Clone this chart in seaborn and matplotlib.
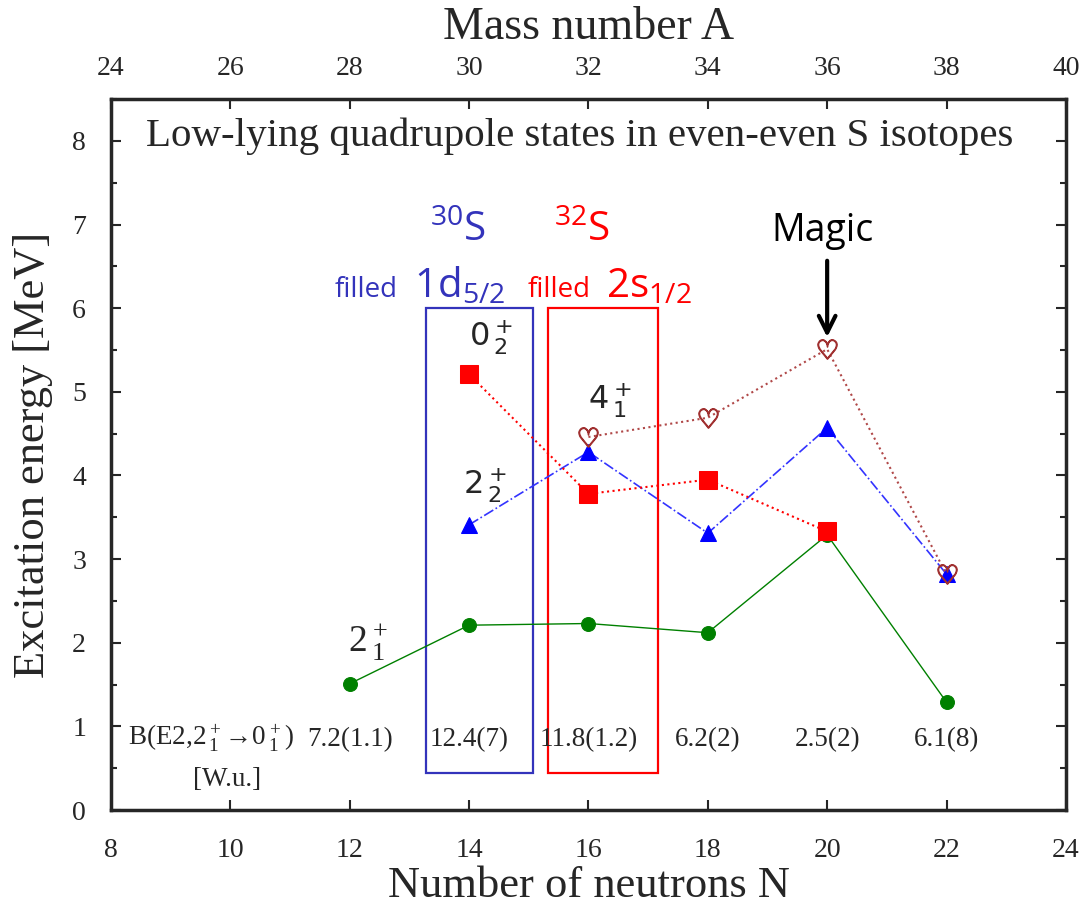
import matplotlib
matplotlib.use('Agg')
import matplotlib.pyplot as plt
import seaborn as sns
from matplotlib.patches import Rectangle
from matplotlib.ticker import MultipleLocator

# excitation energies [MeV] vs neutron number N
n_2p1 = [12, 14, 16, 18, 20, 22]
e_2p1 = [1.51, 2.21, 2.23, 2.12, 3.29, 1.29]
n_2p2 = [14, 16, 18, 20, 22]
e_2p2 = [3.41, 4.28, 3.31, 4.57, 2.82]
n_0p2 = [14, 16, 18, 20]
e_0p2 = [5.21, 3.78, 3.95, 3.33]
n_4p1 = [16, 18, 20, 22]
e_4p1 = [4.46, 4.69, 5.51, 2.82]

# B(E2) values printed under each isotope
be2_n = [12, 14, 16, 18, 20, 22]
be2_txt = ['7.2(1.1)', '12.4(7)', '11.8(1.2)', '6.2(2)', '2.5(2)', '6.1(8)']

mass_ticks = [24, 26, 28, 30, 32, 34, 36, 38, 40]

sns.set_style('ticks')
plt.rcParams['font.family'] = ['Liberation Serif', 'DejaVu Sans']

fig = plt.figure(figsize=(10.81, 9.07), dpi=100)
ax = fig.add_axes([0.1027, 0.1069, 0.8833, 0.7839])

sns.lineplot(x=n_2p1, y=e_2p1, ax=ax, color='green', linestyle='-', lw=1,
             marker='o', markersize=10, markeredgecolor='green')
sns.lineplot(x=n_2p2, y=e_2p2, ax=ax, color='#3333ff', linestyle='-.', lw=1.2,
             marker='^', markersize=11, markerfacecolor='blue', markeredgecolor='blue')
sns.lineplot(x=n_0p2, y=e_0p2, ax=ax, color='red', linestyle=':', lw=1.5,
             marker='s', markersize=13, markeredgecolor='red')
sns.lineplot(x=n_4p1, y=e_4p1, ax=ax, color='#b04848', linestyle=':', lw=1.5,
             marker=r'$\heartsuit$', markersize=14, markeredgewidth=1.0,
             markeredgecolor='#a03030', markerfacecolor='#a03030')

ax.set_xlim(8, 24)
ax.set_ylim(0, 8.5)
ax.xaxis.set_major_locator(MultipleLocator(2))
ax.yaxis.set_major_locator(MultipleLocator(1))
ax.yaxis.set_minor_locator(MultipleLocator(0.5))
ax.tick_params(direction='in', which='both', right=True, top=False,
               labelsize=20, width=1.5)
ax.tick_params(which='major', length=7)
ax.tick_params(which='minor', length=4)
ax.tick_params(axis='x', which='major', pad=20)
ax.tick_params(axis='y', which='major', pad=18)
for s in ax.spines.values():
    s.set_linewidth(2.5)
    s.set_visible(True)

ax.set_xlabel('Number of neutrons N', fontsize=32, labelpad=2)
ax.set_ylabel('Excitation energy [MeV]', fontsize=32, labelpad=14)

sec = ax.secondary_xaxis('top', functions=(lambda n: n + 16, lambda a: a - 16))
sec.set_xticks(mass_ticks)
sec.tick_params(direction='in', labelsize=20, length=7, width=1.5, pad=13)
sec.set_xlabel('Mass number A', fontsize=33, labelpad=12)

ax.text(15.86, 8.06, 'Low-lying quadrupole states in even-even S isotopes',
        ha='center', va='center', fontsize=29.5)

# B(E2) row
for n, t in zip(be2_n, be2_txt):
    ax.text(n, 0.84, t, ha='center', va='center', fontsize=19.5)
ax.text(9.68, 0.86, r'B(E2,2$\mathregular{^+_{\,1}}$→0$\mathregular{^+_{\,1}}$)',
        ha='center', va='center', fontsize=19.5)
ax.text(9.95, 0.36, '[W.u.]', ha='center', va='center', fontsize=19.5)

# state labels
lab = dict(fontsize=23, family='DejaVu Sans', ha='left', va='baseline')
ax.text(14.0, 5.55, r'$\mathregular{0^+_{\,2}}$', **lab)
ax.text(16.0, 4.8, r'$\mathregular{4^+_{\,1}}$', **lab)
ax.text(13.9, 3.78, r'$\mathregular{2^+_{\,2}}$', **lab)
ax.text(11.97, 1.89, r'$\mathregular{2^+_{\,1}}$', fontsize=27, ha='left',
        va='baseline')

# shell-closure boxes
ax.add_patch(Rectangle((13.27, 0.44), 15.07 - 13.27, 6.0 - 0.44,
                       fill=False, edgecolor='#3333bb', lw=1.6))
ax.add_patch(Rectangle((15.32, 0.44), 17.16 - 15.32, 6.0 - 0.44,
                       fill=False, edgecolor='red', lw=1.6))

ann = dict(family='Open Sans', va='baseline')
ax.text(13.82, 6.8, r'$\mathregular{^{30}S}$', color='#3333bb', fontsize=29,
        ha='center', **ann)
ax.text(15.90, 6.8, r'$\mathregular{^{32}S}$', color='red', fontsize=29,
        ha='center', **ann)
ax.text(11.75, 6.13, 'filled', color='#3333bb', fontsize=20, ha='left', **ann)
ax.text(13.07, 6.13, r'$\mathregular{1d_{5/2}}$', color='#3333bb', fontsize=29,
        ha='left', **ann)
ax.text(14.98, 6.13, 'filled', color='red', fontsize=20, ha='left', **ann)
ax.text(16.30, 6.13, r'$\mathregular{2s_{1/2}}$', color='red', fontsize=29,
        ha='left', **ann)
ax.text(19.92, 6.8, 'Magic', color='black', fontsize=27, ha='center', **ann)
ax.annotate('', xy=(20, 5.62), xytext=(20, 6.6),
            arrowprops=dict(arrowstyle='->', lw=3, color='black',
                            mutation_scale=30))

fig.savefig('out.png', dpi=100)
